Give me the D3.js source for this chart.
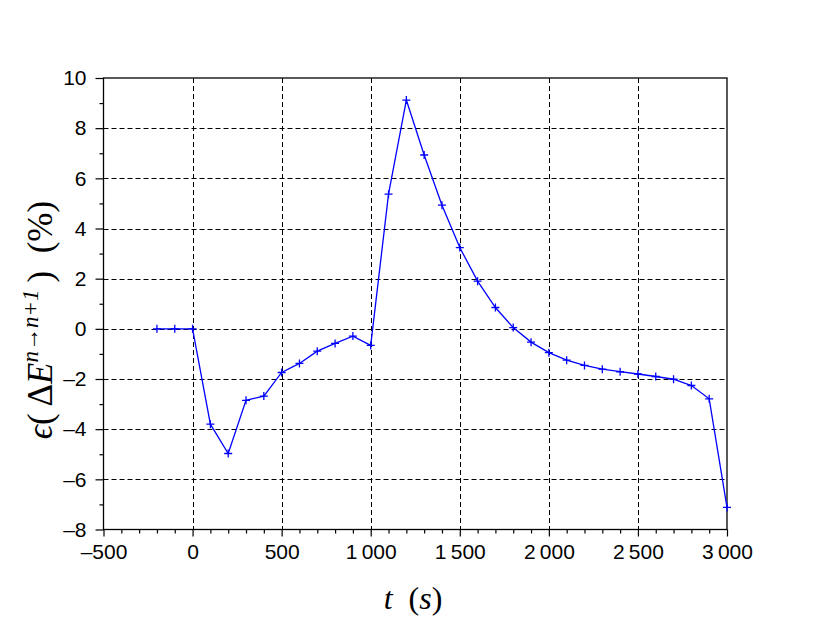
<!DOCTYPE html>
<html><head><meta charset="utf-8">
<script src="https://cdn.jsdelivr.net/npm/d3@7"></script>
<style>body{margin:0;background:#fff}svg{display:block}</style>
</head><body>
<script>
const times = [-200,-100,0,100,200,300,400,500,600,700,800,900,1000,1100,1200,1300,1400,1500,1600,1700,1800,1900,2000,2100,2200,2300,2400,2500,2600,2700,2800,2900,3000];
const errors = [0,0,0,-3.80,-4.97,-2.85,-2.68,-1.74,-1.38,-0.89,-0.58,-0.29,-0.66,5.37,9.12,6.93,4.93,3.24,1.90,0.85,0.05,-0.53,-0.95,-1.25,-1.46,-1.61,-1.71,-1.80,-1.90,-2.01,-2.26,-2.79,-7.12];
const xTicks = [-500,0,500,1000,1500,2000,2500,3000];
const yTicks = [-8,-6,-4,-2,0,2,4,6,8,10];

const W=830,H=626;
const L=103.5,R=727,T=78,B=529.5;
const svg=d3.select("body").append("svg").attr("width",W).attr("height",H);
const x=d3.scaleLinear().domain([-500,3000]).range([L,R]);
const y=d3.scaleLinear().domain([-8,10]).range([B,T]);
const fmt=d=>{const s=Math.abs(d)>=1000?d3.format(",")(d).replace(/,/g,"\u2009"):String(d);return s.replace("-","\u2013");};

// grid
const g=svg.append("g");
g.selectAll(".gx").data(xTicks.filter(d=>d>-500&&d<3000)).join("line")
 .attr("x1",d=>Math.round(x(d))+0.5).attr("x2",d=>Math.round(x(d))+0.5).attr("y1",T).attr("y2",B)
 .attr("stroke","#000").attr("stroke-width",1).attr("stroke-dasharray","5,3");
g.selectAll(".gy").data(yTicks.filter(d=>d>-8&&d<10)).join("line")
 .attr("y1",d=>Math.round(y(d))+0.5).attr("y2",d=>Math.round(y(d))+0.5).attr("x1",L).attr("x2",R)
 .attr("stroke","#000").attr("stroke-width",1).attr("stroke-dasharray","5,3");

// axes
const xMinor=d3.range(-500,3001,100).filter(d=>!xTicks.includes(d));
const yMinor=d3.range(-7,10,2);
const xa=svg.append("g").attr("transform",`translate(0,${B})`)
 .call(d3.axisBottom(x).tickValues(xTicks).tickSize(7).tickPadding(8).tickFormat(fmt));
const xm=svg.append("g").attr("transform",`translate(0,${B})`)
 .call(d3.axisBottom(x).tickValues(xMinor).tickSize(4).tickFormat(""));
const ya=svg.append("g").attr("transform",`translate(${L},0)`)
 .call(d3.axisLeft(y).tickValues(yTicks).tickSize(8).tickPadding(9).tickFormat(fmt));
const ym=svg.append("g").attr("transform",`translate(${L},0)`)
 .call(d3.axisLeft(y).tickValues(yMinor).tickSize(4).tickFormat(""));
[xa,xm,ya,ym].forEach(a=>{a.select(".domain").remove();a.selectAll("line").attr("stroke","#000").attr("stroke-width",1.2);});
[xa,ya].forEach(a=>a.selectAll("text").attr("font-family","'Liberation Sans', Arial, sans-serif").attr("font-size",21).attr("fill","#000"));
// frame
svg.append("rect").attr("x",L).attr("y",T).attr("width",R-L).attr("height",B-T)
 .attr("fill","none").attr("stroke","#000").attr("stroke-width",1.3);

// data line
const line=d3.line().x((d,i)=>x(times[i])).y(d=>y(d));
svg.append("path").datum(errors).attr("d",line).attr("fill","none").attr("stroke","#0000ff").attr("stroke-width",1.3);
const m=4;
svg.append("g").selectAll("path").data(errors).join("path")
 .attr("d",(d,i)=>{const cx=x(times[i]),cy=y(d);return `M${cx-m},${cy}H${cx+m}M${cx},${cy-m}V${cy+m}`;})
 .attr("stroke","#0000ff").attr("stroke-width",1.3).attr("fill","none");

// labels
const serif="'Liberation Serif','DejaVu Serif',serif";
const xl=svg.append("text").attr("x",413).attr("y",609).attr("text-anchor","middle")
 .attr("font-family",serif).attr("font-size",32).attr("fill","#000");
xl.append("tspan").attr("font-style","italic").text("t");
xl.append("tspan").text("\u2002(");
xl.append("tspan").attr("font-style","italic").text("s");
xl.append("tspan").text(")");

const yl=svg.append("text").attr("transform",`translate(52,320) rotate(-90)`).attr("text-anchor","middle")
 .attr("font-family",serif).attr("font-size",35).attr("fill","#000");
yl.append("tspan").attr("font-style","italic").text("\u03F5");
yl.append("tspan").text("(\u2009\u0394");
yl.append("tspan").attr("font-style","italic").text("E");
yl.append("tspan").attr("font-style","italic").attr("font-size",23).attr("dy",-14).text("n\u2192n+1");
yl.append("tspan").attr("dy",14).text("\u2009)\u2002(%)");
</script>
</body></html>
